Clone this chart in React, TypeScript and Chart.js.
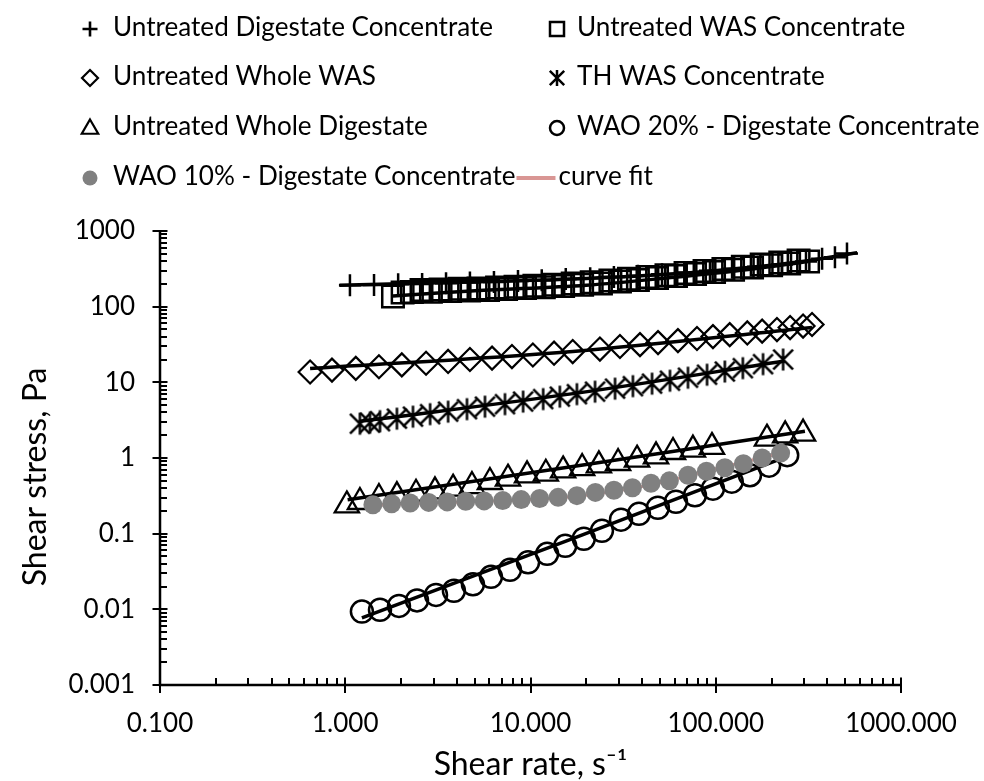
import React, { useEffect, useRef } from 'react';
import { Chart, registerables } from 'chart.js';

Chart.register(...registerables);

const FONT = 'Lato, "Open Sans", sans-serif';

// ---------------- data ----------------
const digConcRate = [1.06, 1.43, 1.93, 2.6, 3.5, 4.71, 6.35, 8.56, 11.5, 15.5, 21.0, 28.2, 38.0, 51.3, 69.1, 93.1, 125, 169, 228, 307, 375, 440, 511];
const digConcStress = [192, 194, 198, 200, 204, 208, 212, 218, 224, 232, 238, 246, 256, 268, 282, 298, 316, 338, 362, 395, 429, 450, 505];

const wasConcRate = [1.81, 2.29, 2.9, 3.68, 4.66, 5.9, 7.38, 9.34, 11.8, 15.0, 19.0, 24.0, 30.4, 38.0, 48.2, 61.0, 77.3, 97.9, 124, 157, 199, 249, 315,
  280, 223, 177, 140, 110, 87.0, 68.7, 54.2, 42.8, 34.0, 27.0, 21.4, 16.9, 13.3, 10.5, 8.3, 6.6, 5.24, 4.14, 3.27, 2.58, 2.04];
const wasConcStress = [136, 156, 158, 161, 163, 166, 171, 176, 180, 187, 195, 203, 215, 225, 239, 254, 270, 287, 308, 329, 352, 372, 395,
  406, 384, 360, 337, 315, 295, 278, 261, 246, 233, 222, 211, 202, 195, 189, 184, 179, 174, 172, 169, 166, 154];

const wholeWasRate = [0.646, 0.848, 1.14, 1.52, 2.02, 2.73, 3.59, 4.71, 6.2, 7.94, 10.3, 13.4, 16.9, 23.7, 30.4, 39.0, 48.8, 62.5, 79.2, 96.6, 119, 148, 178, 214, 252, 296, 331];
const wholeWasStress = [13.7, 14.5, 15.3, 16.1, 17.0, 17.9, 18.9, 20.0, 20.9, 21.9, 23.0, 24.3, 25.5, 27.5, 29.7, 31.5, 33.5, 35.6, 37.9, 40.2, 42.7, 45.0, 47.5, 49.8, 52.9, 55.4, 58.0];

const thWasRate = [1.2, 1.36, 1.54, 1.9, 2.32, 2.87, 3.59, 4.54, 5.68, 7.28, 9.12, 11.7, 14.4, 17.8, 22.3, 28.6, 35.7, 45.3, 56.6, 70.8, 89.7, 112, 140, 180, 231];
const thWasStress = [2.84, 2.93, 3.07, 3.31, 3.52, 3.8, 4.1, 4.42, 4.77, 5.15, 5.56, 6.0, 6.47, 6.98, 7.53, 8.25, 8.91, 9.61, 10.5, 11.5, 12.6, 13.9, 15.4, 17.4, 20.0];

const wholeDigRate = [1.02, 1.2, 1.52, 1.9, 2.41, 3.05, 3.82, 4.83, 6.04, 7.56, 9.58, 12.1, 15.0, 19.0, 23.4, 29.7, 37.6, 47.6, 58.8, 75.3, 95.4, 189, 237, 296];
const wholeDigStress = [0.236, 0.262, 0.296, 0.314, 0.337, 0.362, 0.393, 0.426, 0.482, 0.533, 0.589, 0.62, 0.685, 0.737, 0.798, 0.859, 0.95, 1.05, 1.2, 1.29, 1.4, 1.8, 1.99, 2.1];

const wao20Rate = [1.23, 1.54, 1.95, 2.44, 3.09, 3.86, 4.89, 6.12, 7.75, 9.7, 12.3, 15.4, 19.4, 24.3, 30.8, 38.5, 48.7, 61.0, 77.2, 96.6, 122, 153, 194, 243];
const wao20Stress = [0.00935, 0.00985, 0.0111, 0.0131, 0.0155, 0.0176, 0.0214, 0.0269, 0.0333, 0.0418, 0.0542, 0.0691, 0.0857, 0.109, 0.153, 0.183, 0.22, 0.264, 0.322, 0.393, 0.486, 0.592, 0.791, 1.09];

const wao10Rate = [1.41, 1.78, 2.24, 2.82, 3.55, 4.47, 5.62, 7.08, 8.91, 11.2, 14.1, 17.8, 22.4, 28.2, 35.5, 44.7, 56.2, 70.8, 89.1, 112, 141, 178, 224];
const wao10Stress = [0.241, 0.249, 0.254, 0.259, 0.263, 0.268, 0.271, 0.274, 0.282, 0.291, 0.302, 0.318, 0.351, 0.375, 0.405, 0.464, 0.499, 0.59, 0.668, 0.744, 0.842, 1.0, 1.16];

// curve fits
const digConcFitRate = [0.93, 6.8, 20, 60, 150, 300, 580];
const digConcFitStress = [192, 217, 236, 272, 330, 400, 515];
const wasConcFitRate = [1.81, 5, 20, 60, 150, 315];
const wasConcFitStress = [138, 162, 192, 245, 310, 395];
const wholeWasFitRate = [0.646, 16.9, 331];
const wholeWasFitStress = [15.2, 25.6, 53];
const thWasFitRate = [1.2, 17.8, 231];
const thWasFitStress = [3.05, 7.2, 19.0];
const wholeDigFitRate = [1.03, 20, 303];
const wholeDigFitStress = [0.281, 0.82, 2.25];
const wao20FitRate = [1.23, 17.3, 243];
const wao20FitStress = [0.0077, 0.088, 1.05];
const wao10FitRate = [1.41, 5, 15, 40, 100, 224];
const wao10FitStress = [0.24, 0.265, 0.3, 0.42, 0.72, 1.16];

// tick labels
const xTickLabels = ['0.100', '1.000', '10.000', '100.000', '1000.000'];
const yTickLabels = ['0.001', '0.01', '0.1', '1', '10', '100', '1000'];
const xMin = 0.1, xMax = 1000, yMin = 0.001, yMax = 1000;

const xTitle = 'Shear rate, s\u207B\u00B9';
const yTitle = 'Shear stress, Pa';

// ---------------- helpers ----------------
const pts = (xs: number[], ys: number[]) => xs.map((x, i) => ({ x, y: ys[i] }));

type Kind = 'plus' | 'square' | 'diamond' | 'star' | 'triangle' | 'circle' | 'dot' | 'line';

function drawMarker(ctx: CanvasRenderingContext2D, kind: Kind, x: number, y: number, s: number, lw: number) {
  ctx.save();
  ctx.lineWidth = lw;
  ctx.strokeStyle = '#000';
  ctx.beginPath();
  switch (kind) {
    case 'plus':
      ctx.moveTo(x - s, y); ctx.lineTo(x + s, y);
      ctx.moveTo(x, y - s); ctx.lineTo(x, y + s);
      ctx.stroke();
      break;
    case 'square':
      ctx.rect(x - s, y - s, 2 * s, 2 * s);
      ctx.stroke();
      break;
    case 'diamond':
      ctx.moveTo(x, y - s); ctx.lineTo(x + s, y); ctx.lineTo(x, y + s); ctx.lineTo(x - s, y); ctx.closePath();
      ctx.stroke();
      break;
    case 'star': {
      const d = s * 0.9;
      ctx.moveTo(x, y - s); ctx.lineTo(x, y + s);
      ctx.moveTo(x - d, y - d); ctx.lineTo(x + d, y + d);
      ctx.moveTo(x + d, y - d); ctx.lineTo(x - d, y + d);
      ctx.stroke();
      break;
    }
    case 'triangle':
      ctx.moveTo(x, y - s); ctx.lineTo(x + s * 0.866, y + s * 0.5); ctx.lineTo(x - s * 0.866, y + s * 0.5); ctx.closePath();
      ctx.stroke();
      break;
    case 'circle':
      ctx.arc(x, y, s, 0, Math.PI * 2);
      ctx.stroke();
      break;
    case 'dot':
      ctx.arc(x, y, s, 0, Math.PI * 2);
      ctx.fillStyle = '#808080';
      ctx.fill();
      break;
    default:
      break;
  }
  ctx.restore();
}

function markerCanvas(kind: Kind, s: number, lw: number) {
  const size = Math.ceil(2 * s + 2 * lw + 2);
  const c = document.createElement('canvas');
  c.width = size; c.height = size;
  const g = c.getContext('2d')!;
  drawMarker(g, kind, size / 2, size / 2, s, lw);
  return c;
}

function majorLabel(v: number, labels: string[], minVal: number) {
  const e = Math.log10(v);
  const r = Math.round(e);
  if (Math.abs(e - r) > 1e-6) return '';
  return labels[r - Math.round(Math.log10(minVal))] ?? '';
}

const legendPlugin = {
  id: 'excelLegend',
  afterDraw(chart: any) {
    const ctx: CanvasRenderingContext2D = chart.ctx;
    const entries = chart.data.datasets.filter((d: any) => d.legendKind);
    const rowsY = [28, 77, 127, 177];
    ctx.save();
    ctx.font = `26.1px ${FONT}`;
    ctx.fillStyle = '#000';
    ctx.textBaseline = 'middle';
    ctx.textAlign = 'left';
    let prevEnd = 0;
    entries.forEach((d: any, i: number) => {
      const row = Math.floor(i / 2);
      const col = i % 2;
      const y = rowsY[row];
      const kind: Kind = d.legendKind;
      let textX: number;
      if (kind === 'line') {
        const lx = Math.max(prevEnd + 1, 498);
        ctx.save();
        ctx.strokeStyle = d.borderColor;
        ctx.lineWidth = 4;
        ctx.beginPath();
        ctx.moveTo(lx, y + 1); ctx.lineTo(lx + 39, y + 1);
        ctx.stroke();
        ctx.restore();
        textX = lx + 42;
      } else {
        const mx = col === 0 ? 90 : 557;
        const sizes: Record<string, [number, number]> = {
          plus: [7.5, 2.6], square: [7, 2.5], diamond: [8, 2.2], star: [8, 2.5],
          triangle: [9.5, 2.2], circle: [7, 2.5], dot: [7.5, 0],
        };
        const [s, lw] = sizes[kind];
        drawMarker(ctx, kind, mx, y + (kind === 'triangle' ? 2 : 1), s, lw);
        textX = col === 0 ? 113 : 577;
      }
      ctx.fillText(d.label, textX, y);
      prevEnd = textX + ctx.measureText(d.label).width;
    });
    ctx.restore();
  },
};

const axesPlugin = {
  id: 'excelAxes',
  afterDraw(chart: any) {
    const ctx: CanvasRenderingContext2D = chart.ctx;
    const a = chart.chartArea;
    const xs = chart.scales.x;
    const ys = chart.scales.y;
    ctx.save();
    ctx.strokeStyle = '#000';
    ctx.lineWidth = 2.5;
    ctx.beginPath();
    ctx.moveTo(a.left, a.top); ctx.lineTo(a.left, a.bottom + 1.25);
    ctx.moveTo(a.left, a.bottom); ctx.lineTo(a.right, a.bottom);
    ctx.stroke();
    ctx.lineWidth = 2;
    ctx.beginPath();
    const e0y = Math.round(Math.log10(ys.min)), e1y = Math.round(Math.log10(ys.max));
    for (let e = e0y; e <= e1y; e++) {
      for (let k = 1; k <= 9; k++) {
        const v = k * Math.pow(10, e);
        if (v > ys.max * 1.0001) break;
        const py = Math.round(ys.getPixelForValue(v));
        if (k === 1) { ctx.moveTo(a.left - 7.5, py); ctx.lineTo(a.left + 7.5, py); }
        else { ctx.moveTo(a.left, py); ctx.lineTo(a.left + 7, py); }
      }
    }
    const e0x = Math.round(Math.log10(xs.min)), e1x = Math.round(Math.log10(xs.max));
    for (let e = e0x; e <= e1x; e++) {
      for (let k = 1; k <= 9; k++) {
        const v = k * Math.pow(10, e);
        if (v > xs.max * 1.0001) break;
        const px = Math.round(xs.getPixelForValue(v));
        if (k === 1) { ctx.moveTo(px, a.bottom - 7.5); ctx.lineTo(px, a.bottom + 8); }
        else { ctx.moveTo(px, a.bottom - 7); ctx.lineTo(px, a.bottom); }
      }
    }
    ctx.stroke();

    // vertical axis title (Excel places it slightly below the plot centre)
    ctx.translate(36, (a.top + a.bottom) / 2 + 19);
    ctx.rotate(-Math.PI / 2);
    ctx.font = `32px ${FONT}`;
    ctx.fillStyle = '#000';
    ctx.textAlign = 'center';
    ctx.textBaseline = 'middle';
    ctx.fillText(yTitle, 0, 0);
    ctx.restore();
  },
};

export default function App() {
  const ref = useRef<HTMLCanvasElement>(null);

  useEffect(() => {
    const canvas = ref.current;
    if (!canvas) return;

    const starImg = markerCanvas('star', 11, 2.5);

    const markerSet = (label: string, xs: number[], ys: number[], kind: Kind, extra: any) => ({
      label,
      legendKind: kind,
      data: pts(xs, ys),
      showLine: false,
      pointBorderColor: '#000',
      pointBackgroundColor: 'rgba(0,0,0,0)',
      order: 3,
      ...extra,
    });
    const fitSet = (xs: number[], ys: number[], color = '#000', width = 3.5, order = 2, label = '_fit', legend?: Kind) => ({
      label,
      legendKind: legend,
      data: pts(xs, ys),
      showLine: true,
      borderColor: color,
      borderWidth: width,
      pointRadius: 0,
      tension: 0.35,
      fill: false,
      order,
    });

    const datasets: any[] = [
      markerSet('Untreated Digestate Concentrate', digConcRate, digConcStress, 'plus', { pointStyle: 'cross', pointRadius: 11, pointBorderWidth: 2.5 }),
      markerSet('Untreated WAS Concentrate', wasConcRate, wasConcStress, 'square', { pointStyle: 'rect', pointRadius: 15.2, pointBorderWidth: 2.5 }),
      markerSet('Untreated Whole WAS', wholeWasRate, wholeWasStress, 'diamond', { pointStyle: 'rectRot', pointRadius: 11.5, pointBorderWidth: 2.2 }),
      markerSet('TH WAS Concentrate', thWasRate, thWasStress, 'star', { pointStyle: starImg, pointRadius: 11, pointBorderWidth: 2.5 }),
      markerSet('Untreated Whole Digestate', wholeDigRate, wholeDigStress, 'triangle', { pointStyle: 'triangle', pointRadius: 14, pointBorderWidth: 2.3 }),
      markerSet('WAO 20% - Digestate Concentrate', wao20Rate, wao20Stress, 'circle', { pointStyle: 'circle', pointRadius: 11, pointBorderWidth: 2.5 }),
      markerSet('WAO 10% - Digestate Concentrate', wao10Rate, wao10Stress, 'dot', { pointStyle: 'circle', pointRadius: 9.5, pointBorderWidth: 0, pointBackgroundColor: '#808080', order: 0 }),
      fitSet(wao10FitRate, wao10FitStress, '#D99694', 3, 1, 'curve fit', 'line'),
      fitSet(digConcFitRate, digConcFitStress),
      fitSet(wasConcFitRate, wasConcFitStress),
      fitSet(wholeWasFitRate, wholeWasFitStress),
      fitSet(thWasFitRate, thWasFitStress),
      fitSet(wholeDigFitRate, wholeDigFitStress),
      fitSet(wao20FitRate, wao20FitStress),
    ];

    const tickFont = { family: FONT, size: 26 };
    const titleFont = { family: FONT, size: 32, lineHeight: 1 };

    const chart = new Chart(canvas, {
      type: 'scatter',
      data: { datasets },
      options: {
        animation: false,
        responsive: false,
        devicePixelRatio: 1,
        layout: { padding: { top: 231, right: 83, left: 0, bottom: 0 } },
        plugins: {
          legend: { display: false },
          tooltip: { enabled: false },
        },
        scales: {
          x: {
            type: 'logarithmic',
            position: 'bottom',
            min: xMin,
            max: xMax,
            grid: { display: false },
            border: { display: false },
            ticks: {
              autoSkip: false,
              maxRotation: 0,
              padding: 15,
              color: '#000',
              font: tickFont,
              callback: (v: any) => majorLabel(Number(v), xTickLabels, xMin),
            },
            title: { display: true, text: xTitle, color: '#000', font: titleFont, padding: { top: 0, bottom: 0 } },
            afterFit: (s: any) => { s.height = 96; },
          },
          y: {
            type: 'logarithmic',
            position: 'left',
            min: yMin,
            max: yMax,
            grid: { display: false },
            border: { display: false },
            ticks: {
              autoSkip: false,
              padding: 17,
              color: '#000',
              font: tickFont,
              callback: (v: any) => majorLabel(Number(v), yTickLabels, yMin),
            },
            title: { display: false },
            afterFit: (s: any) => { s.width = 160; },
          },
        },
      } as any,
      plugins: [axesPlugin, legendPlugin],
    });

    return () => chart.destroy();
  }, []);

  return (
    <div style={{ position: 'absolute', left: 0, top: 0, width: 984, height: 781, background: '#fff' }}>
      <canvas ref={ref} width={984} height={781} style={{ display: 'block', width: 984, height: 781 }} />
    </div>
  );
}
